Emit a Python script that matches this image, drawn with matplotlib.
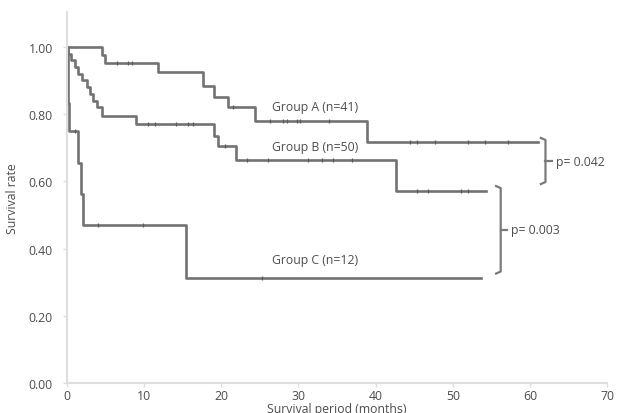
import numpy as np
import matplotlib
matplotlib.use("Agg")
import matplotlib.pyplot as plt

plt.rcParams['font.family'] = ['Open Sans', 'DejaVu Sans']

# Kaplan-Meier step curves (time in months, survival rate)
times_a = [0, 4.5, 5.0, 11.8, 17.6, 19.1, 20.9, 24.4, 38.9, 61.0]
surv_a = [1.0, 0.976, 0.951, 0.925, 0.884, 0.85, 0.82, 0.78, 0.717, 0.717]
cens_a = [6.5, 7.9, 8.4, 21.5, 26.3, 28.0, 28.5, 29.8, 30.2, 33.9,
          44.5, 45.4, 47.7, 52.0, 54.2, 57.2]

times_b = [0, 0.2, 0.6, 1.0, 1.4, 2.0, 2.6, 3.0, 3.4, 3.9, 4.5, 8.9,
           19.1, 19.6, 21.9, 42.7, 54.3]
surv_b = [1.0, 0.98, 0.96, 0.94, 0.92, 0.90, 0.88, 0.86, 0.84, 0.82, 0.795,
          0.77, 0.735, 0.705, 0.664, 0.571, 0.571]
cens_b = [10.5, 11.4, 14.2, 15.7, 16.4, 20.5, 23.4, 26.0, 31.3, 33.1, 34.5,
          37.0, 45.4, 46.8, 51.0, 52.0]

times_c = [0, 0.1, 0.2, 0.3, 1.5, 1.8, 2.1, 15.4, 53.7]
surv_c = [1.0, 0.917, 0.833, 0.75, 0.656, 0.5625, 0.469, 0.3125, 0.3125]
cens_c = [1.0, 4.0, 9.9, 25.3]

group_labels = ['Group A (n=41)', 'Group B (n=50)', 'Group C (n=12)']
label_y = [0.824, 0.705, 0.369]
p_labels = ['p= 0.042', 'p= 0.003']

line_col = '#727272'
text_col = '#4d4d4d'
axis_col = '#dedede'
fs = 8.8

fig = plt.figure(figsize=(6.19, 4.14), dpi=100)
ax = fig.add_axes([0.108, 0.072, 0.873, 0.897])

for t, s, c in [(times_a, surv_a, cens_a), (times_b, surv_b, cens_b),
                (times_c, surv_c, cens_c)]:
    ax.step(t, s, where='post', color=line_col, lw=1.9)
    # censor ticks sit on the curve level at that time
    idx = np.searchsorted(t, c, side='right') - 1
    ax.plot(c, np.array(s)[idx], ls='none', marker='|', ms=3, mew=0.9,
            color='#5a5a5a')

for lab, y in zip(group_labels, label_y):
    ax.text(26.6, y, lab, fontsize=fs, color=text_col, va='center', ha='left')

# brackets with p values
def bracket(x, y_top, y_bot, text):
    ax.plot([x - 0.6, x, x, x - 0.6], [y_top + 0.006, y_top, y_bot, y_bot - 0.006],
            color='#7a7a7a', lw=1.6)
    ym = (y_top + y_bot) / 2
    ax.plot([x, x + 0.8], [ym, ym], color='#7a7a7a', lw=1.6)
    ax.text(x + 1.3, ym, text, fontsize=fs, color=text_col, va='center', ha='left')

bracket(62.0, 0.723, 0.598, p_labels[0])
bracket(56.2, 0.580, 0.332, p_labels[1])

ax.set_xlim(0, 70)
ax.set_ylim(0, 1.104)
ax.set_xticks(range(0, 71, 10))
ax.set_yticks([0, 0.2, 0.4, 0.6, 0.8, 1.0])
ax.set_yticklabels(['0.00', '0.20', '0.40', '0.60', '0.80', '1.00'])
ax.tick_params(axis='both', colors=axis_col, length=3, width=1, labelsize=fs,
               labelcolor=text_col)
ax.tick_params(axis='y', pad=7)
ax.tick_params(axis='x', pad=1)
for side in ['top', 'right']:
    ax.spines[side].set_visible(False)
for side in ['left', 'bottom']:
    ax.spines[side].set_color(axis_col)
    ax.spines[side].set_linewidth(1.5)

ax.set_ylabel('Survival rate', fontsize=fs, color=text_col, labelpad=7)
ax.set_xlabel('Survival period (months)', fontsize=fs, color=text_col, labelpad=0)

fig.savefig('out.png', dpi=100)
